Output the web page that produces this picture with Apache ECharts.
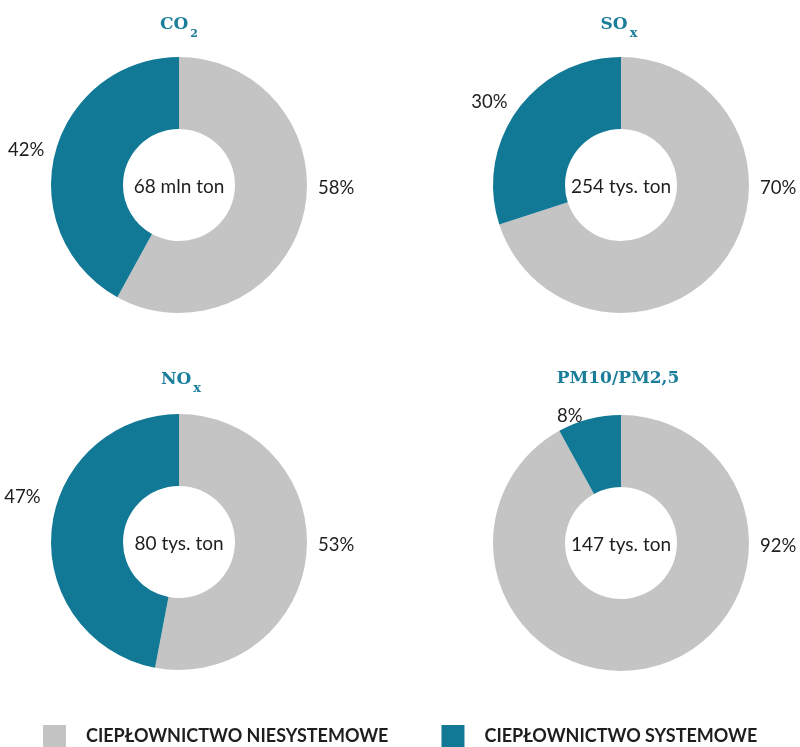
<!DOCTYPE html>
<html><head><meta charset="utf-8">
<script src="https://cdn.jsdelivr.net/npm/echarts@6/dist/echarts.min.js"></script>
<style>html,body{margin:0;padding:0;background:#fff}#c{width:800px;height:747px}</style>
</head><body><div id="c"></div>
<script>
const categories = ['CIEPŁOWNICTWO NIESYSTEMOWE', 'CIEPŁOWNICTWO SYSTEMOWE'];
const pollutants = ['CO2', 'SOx', 'NOx', 'PM10/PM2,5'];
const niesystemowe = [58, 70, 53, 92];
const systemowe = [42, 30, 47, 8];
const totals = ['68 mln ton', '254 tys. ton', '80 tys. ton', '147 tys. ton'];
const titleTexts = ['CO{d|2}', 'SO{x|x}', 'NO{x|x}', 'PM10/PM2,5'];

const colors = ['#c4c4c4', '#117895'];
const centers = [[179, 185], [621, 185], [179, 542], [621, 543]];
const titlePos = [[179, 25], [619, 25], [181, 380], [618, 379]];
// vertical nudge of the teal percentage label (layout only)
const tealLabelNudge = [-2, -4, -32, 3];

const chart = echarts.init(document.getElementById('c'), null, {renderer: 'canvas'});

const titleColor = '#1a7d99';
const titles = [];
pollutants.forEach((p, i) => {
  titles.push({
    text: titleTexts[i], left: titlePos[i][0], top: titlePos[i][1], padding: 0,
    textAlign: 'center', textVerticalAlign: 'middle',
    textStyle: {
      fontFamily: 'DejaVu Serif', fontWeight: 'bold', fontSize: 17, color: titleColor,
      rich: {
        d: { fontFamily: 'DejaVu Serif', fontWeight: 'bold', fontSize: 11, color: titleColor, padding: [19, 0, 0, 2] },
        x: { fontFamily: 'DejaVu Serif', fontWeight: 'bold', fontSize: 13, color: titleColor, padding: [17, 0, 0, 2] }
      }
    }
  });
  titles.push({
    text: totals[i], left: centers[i][0], top: centers[i][1] + 2, padding: 0,
    textAlign: 'center', textVerticalAlign: 'middle',
    textStyle: { fontFamily: 'Lato', fontWeight: 'normal', fontSize: 19, color: '#1e1e1e' }
  });
});

const series = pollutants.map((p, i) => ({
  type: 'pie', name: p,
  center: centers[i], radius: [56, 128],
  startAngle: 90, clockwise: true,
  avoidLabelOverlap: false,
  silent: true,
  label: {
    show: true, position: 'outside', formatter: '{c}%',
    fontFamily: 'Lato', fontSize: 18.5, color: '#1e1e1e'
  },
  labelLine: { show: false, length: 6, length2: 0 },
  labelLayout: function (params) {
    if (params.dataIndex === 0) {
      return {
        x: params.rect.x + params.rect.width + 11,
        y: params.rect.y + params.rect.height / 2 + 3,
        align: 'left', verticalAlign: 'middle'
      };
    }
    return { dy: tealLabelNudge[i] };
  },
  data: [
    { name: categories[0], value: niesystemowe[i], itemStyle: { color: colors[0] } },
    { name: categories[1], value: systemowe[i], itemStyle: { color: colors[1] } }
  ]
}));

chart.setOption({
  animation: false,
  color: colors,
  title: titles,
  legend: {
    data: categories, left: 43, top: 725, padding: 0, orient: 'horizontal',
    icon: 'rect', itemWidth: 23, itemHeight: 23, itemGap: 53,
    selectedMode: false,
    textStyle: { fontFamily: 'Lato', fontWeight: 'bold', fontSize: 18, color: '#1e1e1e', padding: [0, 0, 0, 15] }
  },
  series: series
});
</script></body></html>
